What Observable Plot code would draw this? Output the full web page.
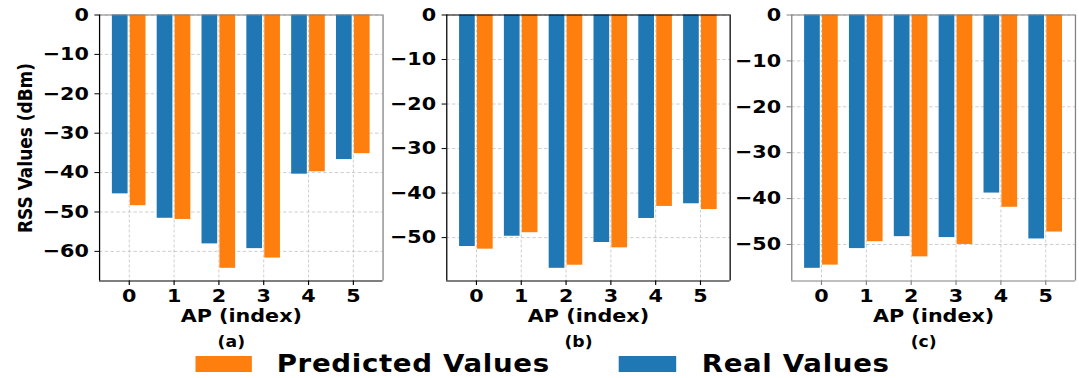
<!DOCTYPE html>
<html><head><meta charset="utf-8">
<script src="https://cdn.jsdelivr.net/npm/d3@7"></script>
<script src="https://cdn.jsdelivr.net/npm/@observablehq/plot@0.6"></script>
<style>
html,body{margin:0;padding:0;background:#fff;overflow:hidden;}
#fig{position:relative;width:939px;height:378px;transform:scaleX(1.15);transform-origin:0 0;font-family:"DejaVu Sans",sans-serif;font-weight:bold;color:#000;}
#fig > *{position:absolute;}
.sw{height:16px;}
.lt{font-size:24px;line-height:24px;white-space:nowrap;letter-spacing:0.6px;}
</style></head><body><div id="fig"></div>
<script>
// ---- data ----
const apIndex = [0, 1, 2, 3, 4, 5];
const realA = [-45.4, -51.6, -58.1, -59.3, -40.4, -36.7];
const predA = [-48.4, -51.9, -64.3, -61.7, -39.8, -35.2];
const realB = [-52.0, -49.7, -56.9, -51.1, -45.7, -42.4];
const predB = [-52.6, -48.9, -56.2, -52.3, -43.0, -43.7];
const realC = [-55.2, -50.9, -48.3, -48.5, -38.8, -48.8];
const predC = [-54.5, -49.4, -52.7, -50.0, -41.9, -47.3];
const seriesNames = ["Predicted Values", "Real Values"];
const seriesColors = ["#ff7f0e", "#1f77b4"];
const panelLabels = ["(a)", "(b)", "(c)"];
const yTicksA = [0, -10, -20, -30, -40, -50, -60];
const yTicksBC = [0, -10, -20, -30, -40, -50];
const xLabel = "AP (index)";
const yLabel = "RSS Values (dBm)";

// ---- layout ----
const S = 1.15;               // horizontal stretch of the original figure
const frames = [[99, 382.5], [445.7, 729.1], [791, 1074.7]];
const frameTop = 14.5, frameBottom = 280.5, H = 378;
const BLACK = "#000", GREY = "#808080";
const spineColors = [
  {left: BLACK, bottom: BLACK, top: GREY, right: GREY},
  {left: BLACK, bottom: BLACK, top: BLACK, right: BLACK},
  {left: GREY, bottom: GREY, top: GREY, right: GREY}
];
const panels = [
  {real: realA, pred: predA, ticks: yTicksA},
  {real: realB, pred: predB, ticks: yTicksBC},
  {real: realC, pred: predC, ticks: yTicksBC}
];
const barW = 0.35, off = 0.2;
const xDomain = [-0.375 - 0.05 * 5.75, 5.375 + 0.05 * 5.75];
const fmt = d => d < 0 ? "\u2212" + Math.abs(d) : String(d);
const fig = document.getElementById("fig");

panels.forEach((p, i) => {
  const rows = [];
  apIndex.forEach((ap, j) => {
    rows.push({ap, series: seriesNames[1], value: p.real[j], o: -1, color: seriesColors[1]});
    rows.push({ap, series: seriesNames[0], value: p.pred[j], o: 1, color: seriesColors[0]});
  });
  const minV = d3.min(rows, d => d.value);
  const yDomain = [minV * 1.05, 0];
  const fl = frames[i][0] / S, fr = frames[i][1] / S;
  const left = i === 0 ? 0 : fl - 62;
  const mL = fl - left, mR = 8;
  const sc = spineColors[i];
  const marks = [
    Plot.gridY(p.ticks, {stroke: "#b8b8b8", strokeOpacity: 0.8, strokeWidth: 0.8, strokeDasharray: "3,2"}),
    Plot.gridX(apIndex, {stroke: "#b8b8b8", strokeOpacity: 0.8, strokeWidth: 0.8, strokeDasharray: "3,2"}),
    Plot.rect(rows, {
      x1: d => d.ap + d.o * off - barW / 2,
      x2: d => d.ap + d.o * off + barW / 2,
      y1: 0, y2: "value", fill: "color"
    }),
    Plot.ruleY([yDomain[1]], {stroke: sc.top, strokeWidth: 1.2}),
    Plot.ruleY([yDomain[0]], {stroke: sc.bottom, strokeWidth: 1.2}),
    Plot.ruleX([xDomain[0]], {stroke: sc.left, strokeWidth: 1.1}),
    Plot.ruleX([xDomain[1]], {stroke: sc.right, strokeWidth: 1.1}),
    Plot.axisY(p.ticks, {tickSize: 4, tickPadding: 5.3, tickFormat: fmt, stroke: sc.left, fill: BLACK, label: null, fontSize: 18, fontWeight: "bold"}),
    Plot.axisX(apIndex, {tickSize: 4.5, tickPadding: 3.8, tickFormat: fmt, stroke: sc.bottom, fill: BLACK, label: null, fontSize: 18, fontWeight: "bold"}),
    Plot.text([xLabel], {text: d => d, frameAnchor: "bottom", lineAnchor: "middle", textAnchor: "middle", dy: 35.5, fontSize: 18, fontWeight: "bold", fill: BLACK}),
    Plot.text([panelLabels[i]], {text: d => d, frameAnchor: "bottom", lineAnchor: "middle", textAnchor: "middle", dx: -10 / S, dy: 61.5, fontSize: 15, fontWeight: "bold", fill: BLACK})
  ];
  if (i === 0) {
    marks.push(Plot.text([yLabel], {text: d => d, frameAnchor: "left", textAnchor: "middle", lineAnchor: "middle", dx: -74 / S, rotate: -90, fontSize: 17, fontWeight: "bold", fill: BLACK}));
  }
  const chart = Plot.plot({
    width: mL + (fr - fl) + mR,
    height: H,
    marginLeft: mL, marginRight: mR, marginTop: frameTop, marginBottom: H - frameBottom,
    x: {type: "linear", domain: xDomain},
    y: {domain: yDomain},
    style: {background: "none", fontFamily: "'DejaVu Sans', sans-serif", fontSize: "18px", fontWeight: "bold", overflow: "visible", color: "#000", maxWidth: "none"},
    marks
  });
  chart.style.left = left + "px";
  chart.style.top = "0px";
  fig.appendChild(chart);
});

// ---- legend ----
const legendItems = [
  {name: seriesNames[0], color: seriesColors[0], sx: 195, sw: 56.7, tx: 276.7},
  {name: seriesNames[1], color: seriesColors[1], sx: 619, sw: 57.7, tx: 701.7}
];
legendItems.forEach(it => {
  const sw = document.createElement("div");
  sw.className = "sw";
  sw.style.left = (it.sx / S) + "px";
  sw.style.top = "356px";
  sw.style.width = (it.sw / S) + "px";
  sw.style.background = it.color;
  fig.appendChild(sw);
  const t = document.createElement("div");
  t.className = "lt";
  t.style.left = (it.tx / S) + "px";
  t.style.top = "351.5px";
  t.textContent = it.name;
  fig.appendChild(t);
});
</script></body></html>
